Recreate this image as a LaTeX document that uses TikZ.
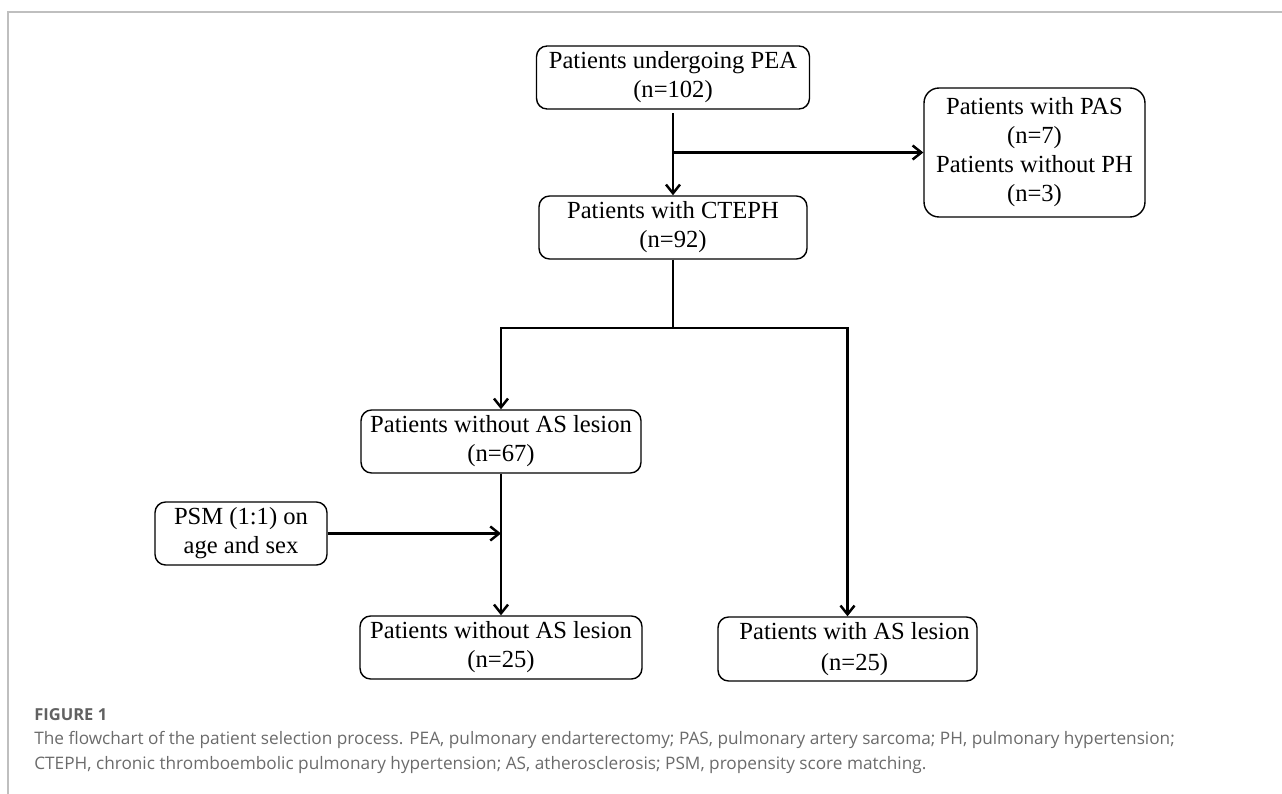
\documentclass[tikz,border=0pt]{standalone}
\usepackage{fontspec}
\setmainfont{Liberation Serif}
\newfontfamily\capfont{Open Sans}
\usetikzlibrary{arrows.meta}

\begin{document}
\begin{tikzpicture}[
    x=0.02cm, y=-0.02cm,
    box/.style={
        draw,
        rounded corners=6pt,
        line width=0.8pt,
        align=center,
        inner sep=0pt,
        minimum height=1.26cm,
        font=\fontsize{14}{16.5}\selectfont,
    },
    link/.style={
        line width=1.4pt,
        -{Straight Barb[length=5pt,width=8pt]},
    },
    trunk/.style={
        line width=1.4pt,
    },
    outline/.style={
        draw=black!25,
        line width=0.8pt,
    },
    figlabel/.style={
        inner sep=0pt,
        text=black!62,
        font=\capfont\bfseries\fontsize{9.4}{11}\selectfont,
    },
    captext/.style={
        inner sep=0pt,
        text=black!58,
        font=\capfont\fontsize{9.8}{14}\selectfont,
    }
]
    \useasboundingbox (0,0) rectangle (1282,794);

    % Frame
    \draw[outline] (8,794) -- (8,12) -- (1282,12);

    % Boxes
    \node[box, minimum width=5.46cm] (pea) at (673,77.5) {Patients undergoing PEA\\(n=102)};
    \node[box, minimum width=5.36cm] (cteph) at (673,227.5) {Patients with CTEPH\\(n=92)};
    \node[box, minimum width=4.42cm, minimum height=2.58cm, rounded corners=8.5pt] (pas) at (1034.5,152.5) {Patients with PAS\\(n=7)\\Patients without PH\\(n=3)};
    \node[box, minimum width=5.6cm] (no67) at (501,441.5) {Patients without AS lesion\\(n=67)};
    \node[box, minimum width=3.44cm] (psm) at (241,533.5) {PSM (1:1) on\\age and sex};
    \node[box, minimum width=5.64cm] (no25) at (501,647.5) {Patients without AS lesion\\(n=25)};
    \node[box, minimum width=5.18cm, minimum height=1.28cm] (as25) at (847.5,649) {\hspace*{8pt}Patients with AS lesion\\[1pt]\hspace*{8pt}(n=25)};

    % Connectors
    \coordinate (split1) at (pea.south |- pas.west);
    \draw[trunk, shorten <=2pt] (pea.south) -- (split1);
    \draw[link] (split1) -- (cteph.north);
    \draw[link] (split1) -- (pas.west);

    \coordinate (split2) at (673,328);
    \draw[trunk] (cteph.south) -- (split2);
    \draw[link] (split2) -| (no67.north);
    \draw[link] (split2) -| (as25.north);

    \coordinate (merge) at (no67.south |- psm.east);
    \draw[link] (no67.south) -- (no25.north);
    \draw[link] (psm.east) -- (merge);

    % Caption
    \node[figlabel, anchor=base west] (figno) at (34,720) {FIGURE 1};
    \node[captext, anchor=base west] (cap1) at (34,744) {The flowchart of the patient selection process. PEA, pulmonary endarterectomy; PAS, pulmonary artery sarcoma; PH, pulmonary hypertension;};
    \node[captext, anchor=base west] (cap2) at (34,769) {CTEPH, chronic thromboembolic pulmonary hypertension; AS, atherosclerosis; PSM, propensity score matching.};

\end{tikzpicture}
\end{document}
